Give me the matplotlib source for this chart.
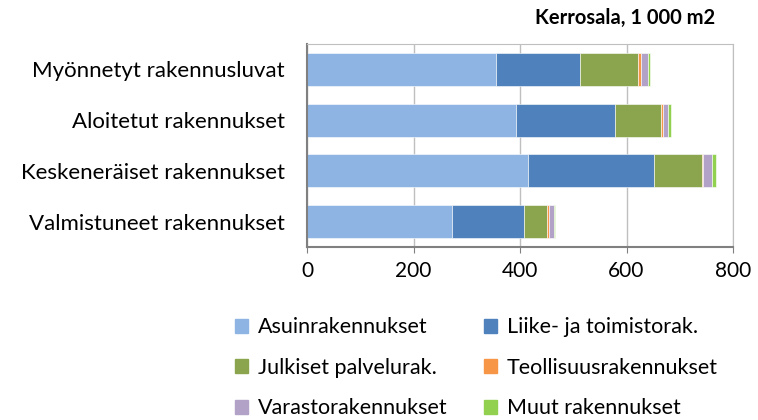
import matplotlib.pyplot as plt
from matplotlib.patches import Patch

plt.rcParams['font.family'] = ['Lato', 'DejaVu Sans']

categories = ['Myönnetyt rakennusluvat', 'Aloitetut rakennukset',
              'Keskeneräiset rakennukset', 'Valmistuneet rakennukset']
series = ['Asuinrakennukset', 'Liike- ja toimistorak.', 'Julkiset palvelurak.',
          'Teollisuusrakennukset', 'Varastorakennukset', 'Muut rakennukset']
asuin = [354, 392, 415, 273]
liike = [159, 187, 237, 134]
julkiset = [109, 86, 90, 43]
teoll = [5, 3, 1, 5]
varasto = [13, 10, 18, 9]
muut = [5, 5, 7, 2]
colors = ['#8eb4e3', '#4f81bd', '#8ba54f', '#f79646', '#b3a2c7', '#92d050']

values = [asuin, liike, julkiset, teoll, varasto, muut]

fig = plt.figure(figsize=(7.58, 4.2), dpi=100)
ax = fig.add_axes([307/758, 1-247/420, 426/758, 203/420])

ypos = list(range(len(categories)))
left = [0]*len(categories)
for vals, col, name in zip(values, colors, series):
    ax.barh(ypos, vals, left=left, height=0.65, color=col, label=name,
            edgecolor='white', linewidth=0.4)
    left = [a+b for a, b in zip(left, vals)]

ax.set_yticks(ypos)
ax.set_yticklabels(categories, fontsize=16)
ax.set_ylim(3.5, -0.5)
ax.set_xlim(0, 800)
ax.set_xticks([0, 200, 400, 600, 800])
ax.tick_params(axis='x', labelsize=15, length=4, color='#808080', pad=6)
ax.tick_params(axis='y', length=0, pad=16)
ax.grid(axis='x', color='#bfbfbf', linewidth=1)
ax.set_axisbelow(True)
for s in ['top', 'right']:
    ax.spines[s].set_color('#bfbfbf')
for s in ['left', 'bottom']:
    ax.spines[s].set_color('#808080')
    ax.spines[s].set_linewidth(1.5)

fig.text(715/758, 1-18/420, 'Kerrosala, 1 000 m2', ha='right', va='center',
         fontsize=14.5, fontweight='bold')

# legend fills column-wise, so reorder to read row-wise
order = [0, 2, 4, 1, 3, 5]
handles = [Patch(color=colors[i], label=series[i]) for i in order]
fig.legend(handles=handles, ncol=2, loc='upper left',
           bbox_to_anchor=(216/758, 1-298/420), frameon=False, fontsize=15.5,
           handlelength=0.6, handleheight=0.6, handletextpad=0.45,
           columnspacing=1.7, labelspacing=0.95)

fig.savefig('out.png', dpi=100)
